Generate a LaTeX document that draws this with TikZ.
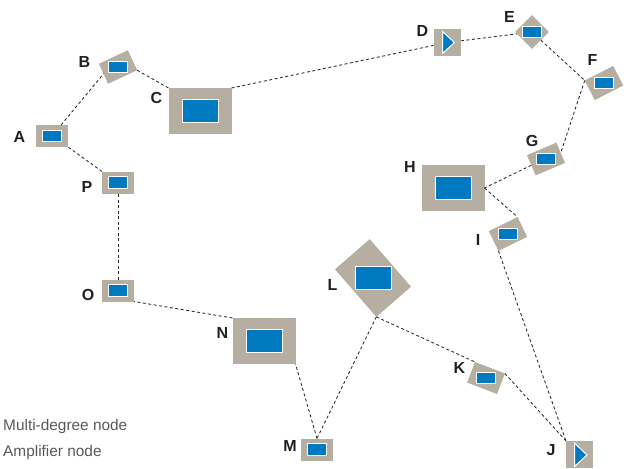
\documentclass[tikz,border=0pt]{standalone}
\usepackage{fontspec}
\setmainfont{Liberation Sans}
\definecolor{boxgrey}{RGB}{181,174,161}
\definecolor{nodeblue}{RGB}{0,121,193}
\definecolor{labelblack}{RGB}{35,31,32}
\definecolor{legendgrey}{RGB}{88,89,91}
\definecolor{linegrey}{RGB}{40,40,40}
\begin{document}
\begin{tikzpicture}[x=1pt,y=-1pt,
  box/.style={rectangle, fill=boxgrey, inner sep=0pt, outer sep=0pt},
  sbox/.style={box, minimum width=32pt, minimum height=22pt},
  bbox/.style={box, minimum width=63pt, minimum height=46pt},
  abox/.style={box, minimum width=27pt, minimum height=27pt},
  ebox/.style={box, minimum width=24pt, minimum height=24pt},
  smallin/.style={rectangle, fill=nodeblue, draw=white, line width=1pt, inner sep=0pt, minimum width=18.5pt, minimum height=11.5pt},
  bigin/.style={smallin, minimum width=36pt, minimum height=23pt},
  lbl/.style={font=\bfseries\fontsize{16}{16}\selectfont, text=labelblack, inner sep=0pt},
  legendtxt/.style={font=\fontsize{15.4}{15.4}\selectfont, text=legendgrey, anchor=west, inner sep=0pt},
  link/.style={draw=linegrey, line width=0.85pt, dash pattern=on 3pt off 2.5pt},
  amptri/.style={fill=nodeblue, draw=white, line width=1pt, line join=miter}
]
\useasboundingbox (0,0) rectangle (628,468);

% grey boxes
\node[sbox] (A) at (52,136) {};
\node[sbox, rotate=25] (B) at (118,67) {};
\node[bbox] (C) at (200,111) {};
\node[abox] (D) at (447.5,42.5) {};
\node[ebox, rotate=45] (E) at (532,32) {};
\node[sbox, rotate=27] (F) at (604,83) {};
\node[sbox, rotate=23] (G) at (546,159) {};
\node[bbox] (H) at (453,188) {};
\node[sbox, rotate=26] (I) at (508,234) {};
\node[abox] (J) at (579.5,454.5) {};
\node[sbox, rotate=-21] (K) at (486,378) {};
\node[bbox, rotate=-49] (L) at (373,278) {};
\node[sbox] (M) at (317,449.5) {};
\node[bbox] (N) at (264,341) {};
\node[sbox] (O) at (118,290.5) {};
\node[sbox] (P) at (118,182.5) {};

% inner blue parts
\node[smallin] (Ai) at (A.center) {};
\node[smallin] (Bi) at (B.center) {};
\node[bigin] (Ci) at (C.center) {};
\node[smallin] (Ei) at (E.center) {};
\node[smallin] (Fi) at (F.center) {};
\node[smallin] (Gi) at (G.center) {};
\node[bigin] (Hi) at (H.center) {};
\node[smallin] (Ii) at (I.center) {};
\node[smallin] (Ki) at (K.center) {};
\node[bigin] (Li) at (L.center) {};
\node[smallin] (Mi) at (M.center) {};
\node[bigin] (Ni) at (N.center) {};
\node[smallin] (Oi) at (O.center) {};
\node[smallin] (Pi) at (P.center) {};
\draw[amptri, shift={(D.center)}] (-5,-11) -- (-5,11) -- (7,0) -- cycle;
\draw[amptri, shift={(J.center)}] (-5,-11.5) -- (-5,12) -- (7.5,0.5) -- cycle;

% links
\draw[link] (A) -- (B.west);
\draw[link] (B.south east) -- (C.north west);
\draw[link] (C.north east) -- (D);
\draw[link] (D) -- (E);
\draw[link] (E) -- (F.north west);
\draw[link] (F.north west) -- (G.east);
\draw[link] (G.west) -- (H.east);
\draw[link] (H.east) -- (I.north east);
\draw[link] (I.south west) -- (J.north west);
\draw[link] (K.north east) -- (J.north west);
\draw[link] (L.south east) -- (K.north west);
\draw[link] (L.south east) -- (M.north);
\draw[link] (M.north) -- (N.south east);
\draw[link] (N.north west) -- (O.south east);
\draw[link] (O.north) -- (P.south);
\draw[link] (P.north west) -- (A.south east);

% labels
\node[lbl] (lA) at (19.5,137) {A};
\node[lbl] (lB) at (84.5,61.5) {B};
\node[lbl] (lC) at (156.5,98) {C};
\node[lbl] (lD) at (422.5,31) {D};
\node[lbl] (lE) at (509.5,16.5) {E};
\node[lbl] (lF) at (592.5,60) {F};
\node[lbl] (lG) at (532,141) {G};
\node[lbl] (lH) at (410,167) {H};
\node[lbl] (lI) at (478,240) {I};
\node[lbl] (lJ) at (551,450) {J};
\node[lbl] (lK) at (459.5,368) {K};
\node[lbl] (lL) at (332.5,285) {L};
\node[lbl] (lM) at (290,446) {M};
\node[lbl] (lN) at (222.5,333) {N};
\node[lbl] (lO) at (88,295) {O};
\node[lbl] (lP) at (87,187) {P};

% legend
\node[legendtxt] (leg1) at (3,426.5) {Multi-degree node};
\node[legendtxt] (leg2) at (3,453) {Amplifier node};
\end{tikzpicture}
\end{document}
